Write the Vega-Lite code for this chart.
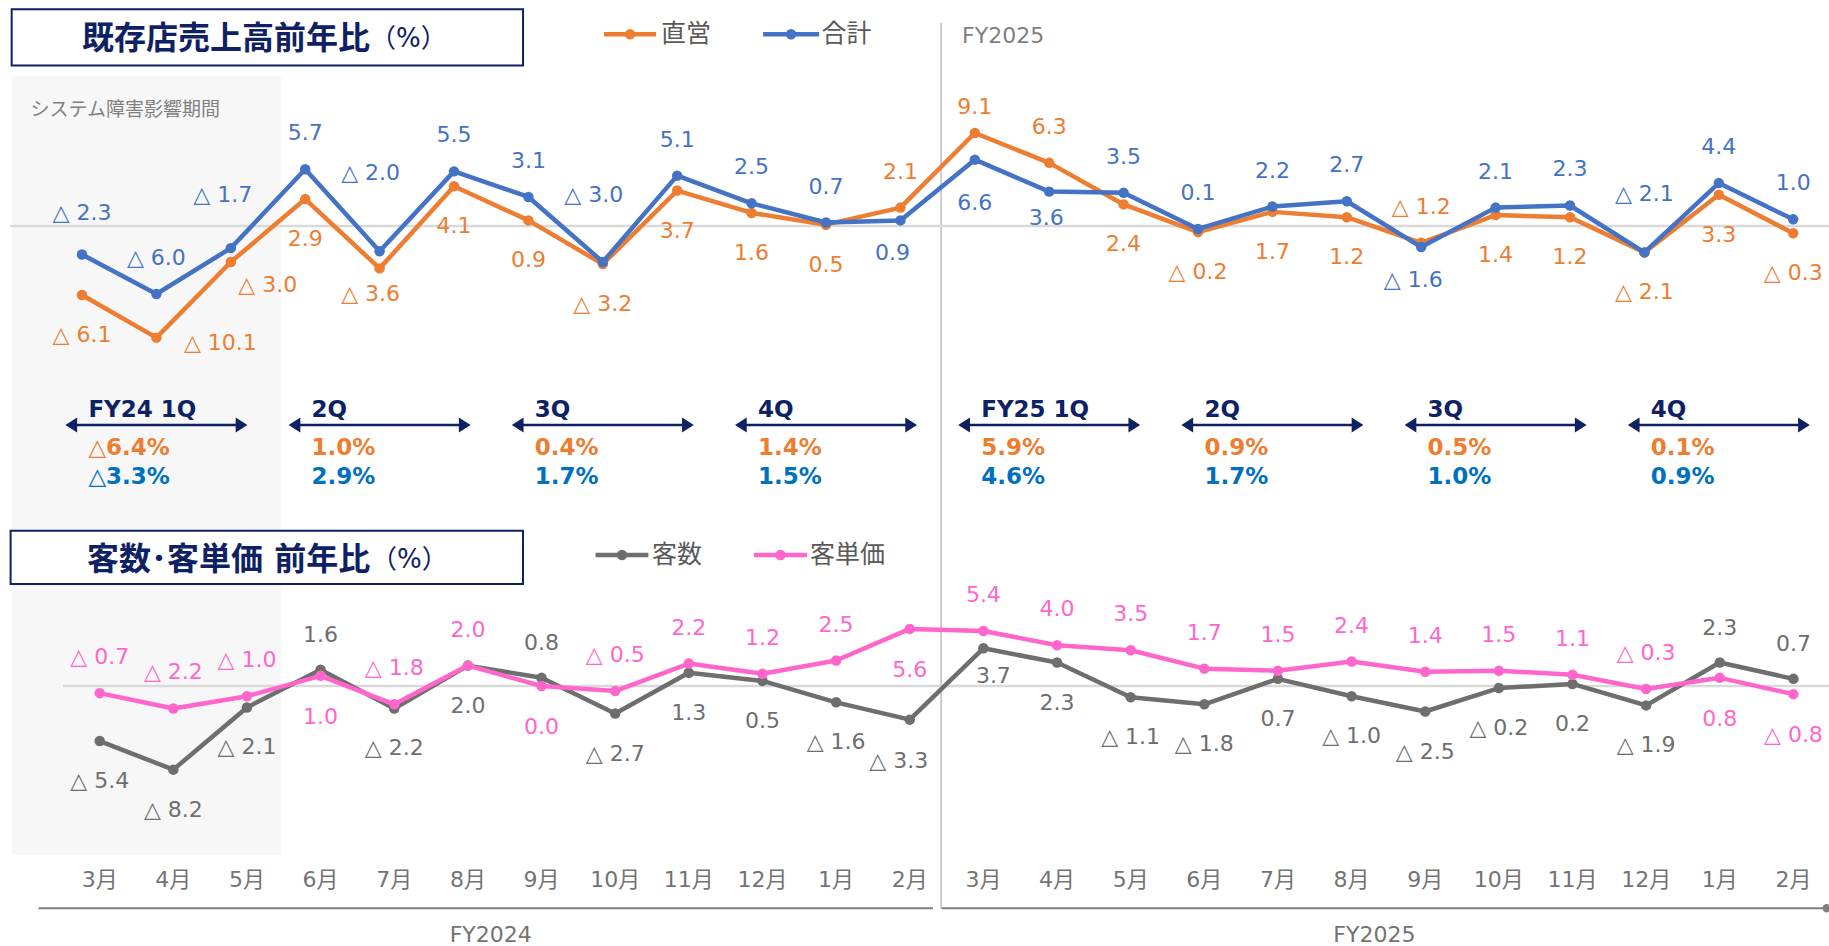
{
  "$schema": "https://vega.github.io/schema/vega-lite/v6.json",
  "width": 1829,
  "height": 946,
  "autosize": {"type": "none"},
  "padding": 0,
  "background": "white",
  "config": {
    "view": {"stroke": null},
    "text": {"font": "DejaVu Sans, Noto Sans CJK JP, sans-serif", "baseline": "middle"}
  },
  "datasets": {
    "top": [
      {"n": 1, "s": "直営", "v": -6.1, "t": "△ 6.1"},
      {"n": 2, "s": "直営", "v": -10.1, "t": "△ 10.1"},
      {"n": 3, "s": "直営", "v": -3.0, "t": "△ 3.0"},
      {"n": 4, "s": "直営", "v": 2.9, "t": "2.9"},
      {"n": 5, "s": "直営", "v": -3.6, "t": "△ 3.6"},
      {"n": 6, "s": "直営", "v": 4.1, "t": "4.1"},
      {"n": 7, "s": "直営", "v": 0.9, "t": "0.9"},
      {"n": 8, "s": "直営", "v": -3.2, "t": "△ 3.2"},
      {"n": 9, "s": "直営", "v": 3.7, "t": "3.7"},
      {"n": 10, "s": "直営", "v": 1.6, "t": "1.6"},
      {"n": 11, "s": "直営", "v": 0.5, "t": "0.5"},
      {"n": 12, "s": "直営", "v": 2.1, "t": "2.1"},
      {"n": 13, "s": "直営", "v": 9.1, "t": "9.1"},
      {"n": 14, "s": "直営", "v": 6.3, "t": "6.3"},
      {"n": 15, "s": "直営", "v": 2.4, "t": "2.4"},
      {"n": 16, "s": "直営", "v": -0.2, "t": "△ 0.2"},
      {"n": 17, "s": "直営", "v": 1.7, "t": "1.7"},
      {"n": 18, "s": "直営", "v": 1.2, "t": "1.2"},
      {"n": 19, "s": "直営", "v": -1.2, "t": "△ 1.2"},
      {"n": 20, "s": "直営", "v": 1.4, "t": "1.4"},
      {"n": 21, "s": "直営", "v": 1.2, "t": "1.2"},
      {"n": 22, "s": "直営", "v": -2.1, "t": "△ 2.1"},
      {"n": 23, "s": "直営", "v": 3.3, "t": "3.3"},
      {"n": 24, "s": "直営", "v": -0.3, "t": "△ 0.3"},
      {"n": 1, "s": "合計", "v": -2.3, "t": "△ 2.3"},
      {"n": 2, "s": "合計", "v": -6.0, "t": "△ 6.0"},
      {"n": 3, "s": "合計", "v": -1.7, "t": "△ 1.7"},
      {"n": 4, "s": "合計", "v": 5.7, "t": "5.7"},
      {"n": 5, "s": "合計", "v": -2.0, "t": "△ 2.0"},
      {"n": 6, "s": "合計", "v": 5.5, "t": "5.5"},
      {"n": 7, "s": "合計", "v": 3.1, "t": "3.1"},
      {"n": 8, "s": "合計", "v": -3.0, "t": "△ 3.0"},
      {"n": 9, "s": "合計", "v": 5.1, "t": "5.1"},
      {"n": 10, "s": "合計", "v": 2.5, "t": "2.5"},
      {"n": 11, "s": "合計", "v": 0.7, "t": "0.7"},
      {"n": 12, "s": "合計", "v": 0.9, "t": "0.9"},
      {"n": 13, "s": "合計", "v": 6.6, "t": "6.6"},
      {"n": 14, "s": "合計", "v": 3.6, "t": "3.6"},
      {"n": 15, "s": "合計", "v": 3.5, "t": "3.5"},
      {"n": 16, "s": "合計", "v": 0.1, "t": "0.1"},
      {"n": 17, "s": "合計", "v": 2.2, "t": "2.2"},
      {"n": 18, "s": "合計", "v": 2.7, "t": "2.7"},
      {"n": 19, "s": "合計", "v": -1.6, "t": "△ 1.6"},
      {"n": 20, "s": "合計", "v": 2.1, "t": "2.1"},
      {"n": 21, "s": "合計", "v": 2.3, "t": "2.3"},
      {"n": 22, "s": "合計", "v": -2.1, "t": "△ 2.1"},
      {"n": 23, "s": "合計", "v": 4.4, "t": "4.4"},
      {"n": 24, "s": "合計", "v": 1.0, "t": "1.0"}
    ],
    "quarters": [
      {"n": 2, "h": "FY24 1Q", "a": "△6.4%", "b": "△3.3%"},
      {"n": 5, "h": "2Q", "a": "1.0%", "b": "2.9%"},
      {"n": 8, "h": "3Q", "a": "0.4%", "b": "1.7%"},
      {"n": 11, "h": "4Q", "a": "1.4%", "b": "1.5%"},
      {"n": 14, "h": "FY25 1Q", "a": "5.9%", "b": "4.6%"},
      {"n": 17, "h": "2Q", "a": "0.9%", "b": "1.7%"},
      {"n": 20, "h": "3Q", "a": "0.5%", "b": "1.0%"},
      {"n": 23, "h": "4Q", "a": "0.1%", "b": "0.9%"}
    ],
    "bottom": [
      {"n": 1, "fy": "FY2024", "m": "3月", "s": "客数", "v": -5.4, "t": "△ 5.4"},
      {"n": 2, "fy": "FY2024", "m": "4月", "s": "客数", "v": -8.2, "t": "△ 8.2"},
      {"n": 3, "fy": "FY2024", "m": "5月", "s": "客数", "v": -2.1, "t": "△ 2.1"},
      {"n": 4, "fy": "FY2024", "m": "6月", "s": "客数", "v": 1.6, "t": "1.6"},
      {"n": 5, "fy": "FY2024", "m": "7月", "s": "客数", "v": -2.2, "t": "△ 2.2"},
      {"n": 6, "fy": "FY2024", "m": "8月", "s": "客数", "v": 2.0, "t": "2.0"},
      {"n": 7, "fy": "FY2024", "m": "9月", "s": "客数", "v": 0.8, "t": "0.8"},
      {"n": 8, "fy": "FY2024", "m": "10月", "s": "客数", "v": -2.7, "t": "△ 2.7"},
      {"n": 9, "fy": "FY2024", "m": "11月", "s": "客数", "v": 1.3, "t": "1.3"},
      {"n": 10, "fy": "FY2024", "m": "12月", "s": "客数", "v": 0.5, "t": "0.5"},
      {"n": 11, "fy": "FY2024", "m": "1月", "s": "客数", "v": -1.6, "t": "△ 1.6"},
      {"n": 12, "fy": "FY2024", "m": "2月", "s": "客数", "v": -3.3, "t": "△ 3.3"},
      {"n": 13, "fy": "FY2025", "m": "3月", "s": "客数", "v": 3.7, "t": "3.7"},
      {"n": 14, "fy": "FY2025", "m": "4月", "s": "客数", "v": 2.3, "t": "2.3"},
      {"n": 15, "fy": "FY2025", "m": "5月", "s": "客数", "v": -1.1, "t": "△ 1.1"},
      {"n": 16, "fy": "FY2025", "m": "6月", "s": "客数", "v": -1.8, "t": "△ 1.8"},
      {"n": 17, "fy": "FY2025", "m": "7月", "s": "客数", "v": 0.7, "t": "0.7"},
      {"n": 18, "fy": "FY2025", "m": "8月", "s": "客数", "v": -1.0, "t": "△ 1.0"},
      {"n": 19, "fy": "FY2025", "m": "9月", "s": "客数", "v": -2.5, "t": "△ 2.5"},
      {"n": 20, "fy": "FY2025", "m": "10月", "s": "客数", "v": -0.2, "t": "△ 0.2"},
      {"n": 21, "fy": "FY2025", "m": "11月", "s": "客数", "v": 0.2, "t": "0.2"},
      {"n": 22, "fy": "FY2025", "m": "12月", "s": "客数", "v": -1.9, "t": "△ 1.9"},
      {"n": 23, "fy": "FY2025", "m": "1月", "s": "客数", "v": 2.3, "t": "2.3"},
      {"n": 24, "fy": "FY2025", "m": "2月", "s": "客数", "v": 0.7, "t": "0.7"},
      {"n": 1, "fy": "FY2024", "m": "3月", "s": "客単価", "v": -0.7, "t": "△ 0.7"},
      {"n": 2, "fy": "FY2024", "m": "4月", "s": "客単価", "v": -2.2, "t": "△ 2.2"},
      {"n": 3, "fy": "FY2024", "m": "5月", "s": "客単価", "v": -1.0, "t": "△ 1.0"},
      {"n": 4, "fy": "FY2024", "m": "6月", "s": "客単価", "v": 1.0, "t": "1.0"},
      {"n": 5, "fy": "FY2024", "m": "7月", "s": "客単価", "v": -1.8, "t": "△ 1.8"},
      {"n": 6, "fy": "FY2024", "m": "8月", "s": "客単価", "v": 2.0, "t": "2.0"},
      {"n": 7, "fy": "FY2024", "m": "9月", "s": "客単価", "v": 0.0, "t": "0.0"},
      {"n": 8, "fy": "FY2024", "m": "10月", "s": "客単価", "v": -0.5, "t": "△ 0.5"},
      {"n": 9, "fy": "FY2024", "m": "11月", "s": "客単価", "v": 2.2, "t": "2.2"},
      {"n": 10, "fy": "FY2024", "m": "12月", "s": "客単価", "v": 1.2, "t": "1.2"},
      {"n": 11, "fy": "FY2024", "m": "1月", "s": "客単価", "v": 2.5, "t": "2.5"},
      {"n": 12, "fy": "FY2024", "m": "2月", "s": "客単価", "v": 5.6, "t": "5.6"},
      {"n": 13, "fy": "FY2025", "m": "3月", "s": "客単価", "v": 5.4, "t": "5.4"},
      {"n": 14, "fy": "FY2025", "m": "4月", "s": "客単価", "v": 4.0, "t": "4.0"},
      {"n": 15, "fy": "FY2025", "m": "5月", "s": "客単価", "v": 3.5, "t": "3.5"},
      {"n": 16, "fy": "FY2025", "m": "6月", "s": "客単価", "v": 1.7, "t": "1.7"},
      {"n": 17, "fy": "FY2025", "m": "7月", "s": "客単価", "v": 1.5, "t": "1.5"},
      {"n": 18, "fy": "FY2025", "m": "8月", "s": "客単価", "v": 2.4, "t": "2.4"},
      {"n": 19, "fy": "FY2025", "m": "9月", "s": "客単価", "v": 1.4, "t": "1.4"},
      {"n": 20, "fy": "FY2025", "m": "10月", "s": "客単価", "v": 1.5, "t": "1.5"},
      {"n": 21, "fy": "FY2025", "m": "11月", "s": "客単価", "v": 1.1, "t": "1.1"},
      {"n": 22, "fy": "FY2025", "m": "12月", "s": "客単価", "v": -0.3, "t": "△ 0.3"},
      {"n": 23, "fy": "FY2025", "m": "1月", "s": "客単価", "v": 0.8, "t": "0.8"},
      {"n": 24, "fy": "FY2025", "m": "2月", "s": "客単価", "v": -0.8, "t": "△ 0.8"}
    ]
  },
  "resolve": {"scale": {"x": "independent", "y": "independent"}},
  "layer": [
    {
      "layer": [
        {"data": {"values": [{}]}, "mark": {"type": "rect", "color": "#F7F7F7"},
         "encoding": {"x": {"datum": 0.059, "type": "quantitative", "scale": {"domain": [-0.1022, 24.481], "nice": false, "zero": false}, "axis": null}, "x2": {"datum": 3.6751},
                      "y": {"datum": 14.446, "type": "quantitative", "scale": {"domain": [-67.167, 21.576], "nice": false, "zero": false}, "axis": null}, "y2": {"datum": -58.63}}},
        {"data": {"values": [{}]}, "mark": {"type": "rule", "color": "#BFBFBF", "strokeWidth": 1.5},
         "encoding": {"x": {"datum": 12.5472, "type": "quantitative", "scale": {"domain": [-0.1022, 24.481], "nice": false, "zero": false}, "axis": null},
                      "y": {"datum": 19.418, "type": "quantitative", "scale": {"domain": [-67.167, 21.576], "nice": false, "zero": false}, "axis": null}, "y2": {"datum": -63.7}}},
        {"data": {"values": [{}]}, "mark": {"type": "rule", "color": "#D9D9D9", "strokeWidth": 2.5},
         "encoding": {"x": {"datum": 0.0321, "type": "quantitative", "scale": {"domain": [-0.1022, 24.481], "nice": false, "zero": false}, "axis": null}, "x2": {"datum": 24.481},
                      "y": {"datum": 0.375, "type": "quantitative", "scale": {"domain": [-67.167, 21.576], "nice": false, "zero": false}, "axis": null}}},
        {"data": {"values": [{}]}, "mark": {"type": "rect", "fill": "#FFFFFF", "stroke": "#0E2163", "strokeWidth": 2},
         "encoding": {"x": {"datum": 0.055, "type": "quantitative", "scale": {"domain": [-0.1022, 24.481], "nice": false, "zero": false}, "axis": null}, "x2": {"datum": 6.928},
                      "y": {"datum": 20.704, "type": "quantitative", "scale": {"domain": [-67.167, 21.576], "nice": false, "zero": false}, "axis": null}, "y2": {"datum": 15.432}}},
        {"data": {"values": [{}]}, "mark": {"type": "text", "align": "left", "fontSize": 32, "fontWeight": "bold", "color": "#0E2163"},
         "encoding": {"x": {"datum": 1.0, "type": "quantitative", "scale": {"domain": [-0.1022, 24.481], "nice": false, "zero": false}, "axis": null},
                      "y": {"datum": 17.871, "type": "quantitative", "scale": {"domain": [-67.167, 21.576], "nice": false, "zero": false}, "axis": null}, "text": {"value": "既存店売上高前年比"}}},
        {"data": {"values": [{}]}, "mark": {"type": "text", "align": "left", "fontSize": 26, "color": "#0E2163"},
         "encoding": {"x": {"datum": 4.871, "type": "quantitative", "scale": {"domain": [-0.1022, 24.481], "nice": false, "zero": false}, "axis": null},
                      "y": {"datum": 17.871, "type": "quantitative", "scale": {"domain": [-67.167, 21.576], "nice": false, "zero": false}, "axis": null}, "text": {"value": "（%）"}}},
        {"data": {"values": [{}]}, "mark": {"type": "rule", "color": "#ED7D31", "strokeWidth": 4.5},
         "encoding": {"x": {"datum": 8.017, "type": "quantitative", "scale": {"domain": [-0.1022, 24.481], "nice": false, "zero": false}, "axis": null}, "x2": {"datum": 8.716},
                      "y": {"datum": 18.358, "type": "quantitative", "scale": {"domain": [-67.167, 21.576], "nice": false, "zero": false}, "axis": null}}},
        {"data": {"values": [{}]}, "mark": {"type": "point", "filled": true, "size": 110, "opacity": 1, "color": "#ED7D31"},
         "encoding": {"x": {"datum": 8.3665, "type": "quantitative", "scale": {"domain": [-0.1022, 24.481], "nice": false, "zero": false}, "axis": null},
                      "y": {"datum": 18.358, "type": "quantitative", "scale": {"domain": [-67.167, 21.576], "nice": false, "zero": false}, "axis": null}}},
        {"data": {"values": [{}]}, "mark": {"type": "text", "align": "left", "fontSize": 25, "color": "#595959"},
         "encoding": {"x": {"datum": 8.7833, "type": "quantitative", "scale": {"domain": [-0.1022, 24.481], "nice": false, "zero": false}, "axis": null},
                      "y": {"datum": 18.358, "type": "quantitative", "scale": {"domain": [-67.167, 21.576], "nice": false, "zero": false}, "axis": null}, "text": {"value": "直営"}}},
        {"data": {"values": [{}]}, "mark": {"type": "rule", "color": "#4472C4", "strokeWidth": 4.5},
         "encoding": {"x": {"datum": 10.1543, "type": "quantitative", "scale": {"domain": [-0.1022, 24.481], "nice": false, "zero": false}, "axis": null}, "x2": {"datum": 10.9071},
                      "y": {"datum": 18.358, "type": "quantitative", "scale": {"domain": [-67.167, 21.576], "nice": false, "zero": false}, "axis": null}}},
        {"data": {"values": [{}]}, "mark": {"type": "point", "filled": true, "size": 110, "opacity": 1, "color": "#4472C4"},
         "encoding": {"x": {"datum": 10.5307, "type": "quantitative", "scale": {"domain": [-0.1022, 24.481], "nice": false, "zero": false}, "axis": null},
                      "y": {"datum": 18.358, "type": "quantitative", "scale": {"domain": [-67.167, 21.576], "nice": false, "zero": false}, "axis": null}}},
        {"data": {"values": [{}]}, "mark": {"type": "text", "align": "left", "fontSize": 25, "color": "#595959"},
         "encoding": {"x": {"datum": 10.9408, "type": "quantitative", "scale": {"domain": [-0.1022, 24.481], "nice": false, "zero": false}, "axis": null},
                      "y": {"datum": 18.358, "type": "quantitative", "scale": {"domain": [-67.167, 21.576], "nice": false, "zero": false}, "axis": null}, "text": {"value": "合計"}}},
        {"data": {"values": [{}]}, "mark": {"type": "text", "align": "left", "fontSize": 22, "color": "#7F7F7F"},
         "encoding": {"x": {"datum": 12.8295, "type": "quantitative", "scale": {"domain": [-0.1022, 24.481], "nice": false, "zero": false}, "axis": null},
                      "y": {"datum": 18.199, "type": "quantitative", "scale": {"domain": [-67.167, 21.576], "nice": false, "zero": false}, "axis": null}, "text": {"value": "FY2025"}}},
        {"data": {"values": [{}]}, "mark": {"type": "text", "align": "left", "fontSize": 19, "color": "#7F7F7F"},
         "encoding": {"x": {"datum": 0.3077, "type": "quantitative", "scale": {"domain": [-0.1022, 24.481], "nice": false, "zero": false}, "axis": null},
                      "y": {"datum": 11.257, "type": "quantitative", "scale": {"domain": [-67.167, 21.576], "nice": false, "zero": false}, "axis": null}, "text": {"value": "システム障害影響期間"}}},
        {"data": {"name": "top"},
         "encoding": {
           "x": {"field": "n", "type": "quantitative", "scale": {"domain": [-0.1022, 24.481], "nice": false, "zero": false}, "axis": null},
           "y": {"field": "v", "type": "quantitative", "scale": {"domain": [-67.167, 21.576], "nice": false, "zero": false}, "axis": null}
         },
         "layer": [
          {"transform": [{"filter": {"field": "s", "equal": "直営"}}],
           "mark": {"type": "line", "color": "#ED7D31", "strokeWidth": 4.5, "strokeJoin": "round", "point": {"filled": true, "size": 110, "opacity": 1, "color": "#ED7D31"}},
           "encoding": {"y": {"field": "v", "type": "quantitative", "scale": {"domain": [-67.167, 21.576], "nice": false, "zero": false},
                              "axis": {"orient": "left", "offset": -22, "values": [-15, -10, -5, 0, 5, 10, 15], "format": ".1f", "labelColor": "#FFFFFF", "labelFontSize": 20, "labelPadding": 0, "domain": false, "ticks": false, "grid": false, "title": null}}}},
          {"transform": [{"filter": {"field": "s", "equal": "合計"}}],
           "mark": {"type": "line", "color": "#4472C4", "strokeWidth": 4.5, "strokeJoin": "round", "point": {"filled": true, "size": 110, "opacity": 1, "color": "#4472C4"}}},
          {"transform": [{"filter": {"and": [{"field": "s", "equal": "直営"}, {"not": {"field": "n", "oneOf": [2, 3, 5, 12, 13, 14, 19]}}]}}],
           "mark": {"type": "text", "fontSize": 22, "color": "#ED7D31", "dy": 40}, "encoding": {"text": {"field": "t"}}},
          {"transform": [{"filter": {"and": [{"field": "s", "equal": "直営"}, {"field": "n", "oneOf": [12, 14, 19]}]}}],
           "mark": {"type": "text", "fontSize": 22, "color": "#ED7D31", "dy": -36}, "encoding": {"text": {"field": "t"}}},
          {"transform": [{"filter": {"and": [{"field": "s", "equal": "直営"}, {"field": "n", "equal": 13}]}}],
           "mark": {"type": "text", "fontSize": 22, "color": "#ED7D31", "dy": -26}, "encoding": {"text": {"field": "t"}}},
          {"transform": [{"filter": {"and": [{"field": "s", "equal": "直営"}, {"field": "n", "equal": 2}]}}],
           "mark": {"type": "text", "fontSize": 22, "color": "#ED7D31", "dx": 64, "dy": 5}, "encoding": {"text": {"field": "t"}}},
          {"transform": [{"filter": {"and": [{"field": "s", "equal": "直営"}, {"field": "n", "equal": 3}]}}],
           "mark": {"type": "text", "fontSize": 22, "color": "#ED7D31", "dx": 37, "dy": 23}, "encoding": {"text": {"field": "t"}}},
          {"transform": [{"filter": {"and": [{"field": "s", "equal": "直営"}, {"field": "n", "equal": 5}]}}],
           "mark": {"type": "text", "fontSize": 22, "color": "#ED7D31", "dx": -9, "dy": 26}, "encoding": {"text": {"field": "t"}}},
          {"transform": [{"filter": {"and": [{"field": "s", "equal": "合計"}, {"not": {"field": "n", "oneOf": [1, 3, 5, 8, 12, 13, 14, 19, 22]}}]}}],
           "mark": {"type": "text", "fontSize": 22, "color": "#4472C4", "dy": -36}, "encoding": {"text": {"field": "t"}}},
          {"transform": [{"filter": {"and": [{"field": "s", "equal": "合計"}, {"field": "n", "equal": 1}]}}],
           "mark": {"type": "text", "fontSize": 22, "color": "#4472C4", "dy": -42}, "encoding": {"text": {"field": "t"}}},
          {"transform": [{"filter": {"and": [{"field": "s", "equal": "合計"}, {"field": "n", "equal": 3}]}}],
           "mark": {"type": "text", "fontSize": 22, "color": "#4472C4", "dx": -8, "dy": -53}, "encoding": {"text": {"field": "t"}}},
          {"transform": [{"filter": {"and": [{"field": "s", "equal": "合計"}, {"field": "n", "equal": 5}]}}],
           "mark": {"type": "text", "fontSize": 22, "color": "#4472C4", "dx": -9, "dy": -78}, "encoding": {"text": {"field": "t"}}},
          {"transform": [{"filter": {"and": [{"field": "s", "equal": "合計"}, {"field": "n", "equal": 8}]}}],
           "mark": {"type": "text", "fontSize": 22, "color": "#4472C4", "dx": -9, "dy": -67}, "encoding": {"text": {"field": "t"}}},
          {"transform": [{"filter": {"and": [{"field": "s", "equal": "合計"}, {"field": "n", "equal": 22}]}}],
           "mark": {"type": "text", "fontSize": 22, "color": "#4472C4", "dy": -58}, "encoding": {"text": {"field": "t"}}},
          {"transform": [{"filter": {"and": [{"field": "s", "equal": "合計"}, {"field": "n", "oneOf": [12, 19]}]}}],
           "mark": {"type": "text", "fontSize": 22, "color": "#4472C4", "dx": -8, "dy": 33}, "encoding": {"text": {"field": "t"}}},
          {"transform": [{"filter": {"and": [{"field": "s", "equal": "合計"}, {"field": "n", "equal": 13}]}}],
           "mark": {"type": "text", "fontSize": 22, "color": "#4472C4", "dy": 43}, "encoding": {"text": {"field": "t"}}},
          {"transform": [{"filter": {"and": [{"field": "s", "equal": "合計"}, {"field": "n", "equal": 14}]}}],
           "mark": {"type": "text", "fontSize": 22, "color": "#4472C4", "dx": -3, "dy": 26}, "encoding": {"text": {"field": "t"}}}
         ]},
        {"data": {"name": "quarters"},
         "encoding": {"x": {"field": "n", "type": "quantitative", "scale": {"domain": [-0.1022, 24.481], "nice": false, "zero": false}, "axis": null}},
         "layer": [
           {"mark": {"type": "point", "shape": "M -1 0 L -0.871 -0.082 L -0.871 -0.014 L 0.871 -0.014 L 0.871 -0.082 L 1 0 L 0.871 0.082 L 0.871 0.014 L -0.871 0.014 L -0.871 0.082 Z", "size": 33124, "filled": true, "opacity": 1, "color": "#0E2163", "strokeWidth": 0},
            "encoding": {"y": {"datum": -18.293, "type": "quantitative", "scale": {"domain": [-67.167, 21.576], "nice": false, "zero": false}, "axis": null}}},
           {"mark": {"type": "text", "align": "left", "dx": -68, "fontSize": 23, "fontWeight": "bold", "color": "#0E2163"},
            "encoding": {"y": {"datum": -16.886, "type": "quantitative", "scale": {"domain": [-67.167, 21.576], "nice": false, "zero": false}, "axis": null}, "text": {"field": "h"}}},
           {"mark": {"type": "text", "align": "left", "dx": -68, "fontSize": 23, "fontWeight": "bold", "color": "#ED7D31"},
            "encoding": {"y": {"datum": -20.45, "type": "quantitative", "scale": {"domain": [-67.167, 21.576], "nice": false, "zero": false}, "axis": null}, "text": {"field": "a"}}},
           {"mark": {"type": "text", "align": "left", "dx": -68, "fontSize": 23, "fontWeight": "bold", "color": "#0070C0"},
            "encoding": {"y": {"datum": -23.143, "type": "quantitative", "scale": {"domain": [-67.167, 21.576], "nice": false, "zero": false}, "axis": null}, "text": {"field": "b"}}}
         ]}
      ]
    },
    {
      "layer": [
        {"data": {"values": [{}]}, "mark": {"type": "rect", "fill": "#FFFFFF", "stroke": "#0E2163", "strokeWidth": 2},
         "encoding": {"x": {"datum": -0.2099, "type": "quantitative", "scale": {"domain": [-0.3539, 24.4831], "nice": false, "zero": false}, "axis": null}, "x2": {"datum": 6.7483},
                      "y": {"datum": 15.225, "type": "quantitative", "scale": {"domain": [-25.49, 67.255], "nice": false, "zero": false}, "axis": null}, "y2": {"datum": 10.0}}},
        {"data": {"values": [{}]}, "mark": {"type": "text", "align": "left", "fontSize": 32, "fontWeight": "bold", "color": "#0E2163"},
         "encoding": {"x": {"datum": 0.8275, "type": "quantitative", "scale": {"domain": [-0.3539, 24.4831], "nice": false, "zero": false}, "axis": null},
                      "y": {"datum": 12.353, "type": "quantitative", "scale": {"domain": [-25.49, 67.255], "nice": false, "zero": false}, "axis": null}, "text": {"value": "客数･客単価 前年比"}}},
        {"data": {"values": [{}]}, "mark": {"type": "text", "align": "left", "fontSize": 26, "color": "#0E2163"},
         "encoding": {"x": {"datum": 4.684, "type": "quantitative", "scale": {"domain": [-0.3539, 24.4831], "nice": false, "zero": false}, "axis": null},
                      "y": {"datum": 12.353, "type": "quantitative", "scale": {"domain": [-25.49, 67.255], "nice": false, "zero": false}, "axis": null}, "text": {"value": "（%）"}}},
        {"data": {"values": [{}]}, "mark": {"type": "rule", "color": "#6E6E6E", "strokeWidth": 4.5},
         "encoding": {"x": {"datum": 7.734, "type": "quantitative", "scale": {"domain": [-0.3539, 24.4831], "nice": false, "zero": false}, "axis": null}, "x2": {"datum": 8.451},
                      "y": {"datum": 12.843, "type": "quantitative", "scale": {"domain": [-25.49, 67.255], "nice": false, "zero": false}, "axis": null}}},
        {"data": {"values": [{}]}, "mark": {"type": "point", "filled": true, "size": 110, "opacity": 1, "color": "#6E6E6E"},
         "encoding": {"x": {"datum": 8.0925, "type": "quantitative", "scale": {"domain": [-0.3539, 24.4831], "nice": false, "zero": false}, "axis": null},
                      "y": {"datum": 12.843, "type": "quantitative", "scale": {"domain": [-25.49, 67.255], "nice": false, "zero": false}, "axis": null}}},
        {"data": {"values": [{}]}, "mark": {"type": "text", "align": "left", "fontSize": 25, "color": "#595959"},
         "encoding": {"x": {"datum": 8.5, "type": "quantitative", "scale": {"domain": [-0.3539, 24.4831], "nice": false, "zero": false}, "axis": null},
                      "y": {"datum": 12.843, "type": "quantitative", "scale": {"domain": [-25.49, 67.255], "nice": false, "zero": false}, "axis": null}, "text": {"value": "客数"}}},
        {"data": {"values": [{}]}, "mark": {"type": "rule", "color": "#FF66CC", "strokeWidth": 4.5},
         "encoding": {"x": {"datum": 9.8851, "type": "quantitative", "scale": {"domain": [-0.3539, 24.4831], "nice": false, "zero": false}, "axis": null}, "x2": {"datum": 10.6048},
                      "y": {"datum": 12.843, "type": "quantitative", "scale": {"domain": [-25.49, 67.255], "nice": false, "zero": false}, "axis": null}}},
        {"data": {"values": [{}]}, "mark": {"type": "point", "filled": true, "size": 110, "opacity": 1, "color": "#FF66CC"},
         "encoding": {"x": {"datum": 10.245, "type": "quantitative", "scale": {"domain": [-0.3539, 24.4831], "nice": false, "zero": false}, "axis": null},
                      "y": {"datum": 12.843, "type": "quantitative", "scale": {"domain": [-25.49, 67.255], "nice": false, "zero": false}, "axis": null}}},
        {"data": {"values": [{}]}, "mark": {"type": "text", "align": "left", "fontSize": 25, "color": "#595959"},
         "encoding": {"x": {"datum": 10.6455, "type": "quantitative", "scale": {"domain": [-0.3539, 24.4831], "nice": false, "zero": false}, "axis": null},
                      "y": {"datum": 12.843, "type": "quantitative", "scale": {"domain": [-25.49, 67.255], "nice": false, "zero": false}, "axis": null}, "text": {"value": "客単価"}}},
        {"data": {"values": [{}]}, "mark": {"type": "rule", "color": "#D9D9D9", "strokeWidth": 2.5},
         "encoding": {"x": {"datum": 0.5016, "type": "quantitative", "scale": {"domain": [-0.3539, 24.4831], "nice": false, "zero": false}, "axis": null}, "x2": {"datum": 24.4831},
                      "y": {"datum": 0, "type": "quantitative", "scale": {"domain": [-25.49, 67.255], "nice": false, "zero": false}, "axis": null}}},
        {"data": {"values": [{}]}, "mark": {"type": "rule", "color": "#808080", "strokeWidth": 2},
         "encoding": {"x": {"datum": 0.1689, "type": "quantitative", "scale": {"domain": [-0.3539, 24.4831], "nice": false, "zero": false}, "axis": null}, "x2": {"datum": 12.3156},
                      "y": {"datum": -21.794, "type": "quantitative", "scale": {"domain": [-25.49, 67.255], "nice": false, "zero": false}, "axis": null}}},
        {"data": {"values": [{}]}, "mark": {"type": "rule", "color": "#808080", "strokeWidth": 2},
         "encoding": {"x": {"datum": 12.434, "type": "quantitative", "scale": {"domain": [-0.3539, 24.4831], "nice": false, "zero": false}, "axis": null}, "x2": {"datum": 24.452},
                      "y": {"datum": -21.794, "type": "quantitative", "scale": {"domain": [-25.49, 67.255], "nice": false, "zero": false}, "axis": null}}},
        {"data": {"values": [{}]}, "mark": {"type": "point", "filled": true, "size": 70, "opacity": 1, "color": "#808080"},
         "encoding": {"x": {"datum": 24.452, "type": "quantitative", "scale": {"domain": [-0.3539, 24.4831], "nice": false, "zero": false}, "axis": null},
                      "y": {"datum": -21.794, "type": "quantitative", "scale": {"domain": [-25.49, 67.255], "nice": false, "zero": false}, "axis": null}}},
        {"data": {"name": "bottom"},
         "transform": [{"filter": {"field": "s", "equal": "客数"}}],
         "mark": {"type": "text", "fontSize": 22, "color": "#737373"},
         "encoding": {"x": {"field": "n", "type": "quantitative", "scale": {"domain": [-0.3539, 24.4831], "nice": false, "zero": false}, "axis": null},
                      "y": {"datum": -19.02, "type": "quantitative", "scale": {"domain": [-25.49, 67.255], "nice": false, "zero": false}, "axis": null}, "text": {"field": "m"}}},
        {"data": {"name": "bottom"},
         "transform": [{"filter": {"field": "s", "equal": "客数"}}, {"aggregate": [{"op": "mean", "field": "n", "as": "n"}], "groupby": ["fy"]}],
         "mark": {"type": "text", "fontSize": 22, "color": "#737373", "dx": -14},
         "encoding": {"x": {"field": "n", "type": "quantitative", "scale": {"domain": [-0.3539, 24.4831], "nice": false, "zero": false}, "axis": null},
                      "y": {"datum": -24.41, "type": "quantitative", "scale": {"domain": [-25.49, 67.255], "nice": false, "zero": false}, "axis": null}, "text": {"field": "fy"}}},
        {"data": {"name": "bottom"},
         "encoding": {
           "x": {"field": "n", "type": "quantitative", "scale": {"domain": [-0.3539, 24.4831], "nice": false, "zero": false}, "axis": null},
           "y": {"field": "v", "type": "quantitative", "scale": {"domain": [-25.49, 67.255], "nice": false, "zero": false}, "axis": null}
         },
         "layer": [
          {"transform": [{"filter": {"field": "s", "equal": "客数"}}],
           "mark": {"type": "line", "color": "#6E6E6E", "strokeWidth": 4.5, "strokeJoin": "round", "point": {"filled": true, "size": 110, "opacity": 1, "color": "#6E6E6E"}},
           "encoding": {"y": {"field": "v", "type": "quantitative", "scale": {"domain": [-25.49, 67.255], "nice": false, "zero": false},
                              "axis": {"orient": "left", "offset": -41, "values": [-15, -10, -5, 0, 5, 10, 15], "format": ".1f", "labelColor": "#FFFFFF", "labelFontSize": 20, "labelPadding": 0, "domain": false, "ticks": false, "grid": false, "title": null}}}},
          {"transform": [{"filter": {"field": "s", "equal": "客単価"}}],
           "mark": {"type": "line", "color": "#FF66CC", "strokeWidth": 4.5, "strokeJoin": "round", "point": {"filled": true, "size": 110, "opacity": 1, "color": "#FF66CC"}}},
          {"transform": [{"filter": {"and": [{"field": "s", "equal": "客単価"}, {"not": {"field": "n", "oneOf": [4, 7, 12, 23, 24]}}]}}],
           "mark": {"type": "text", "fontSize": 22, "color": "#FF66CC", "dy": -36}, "encoding": {"text": {"field": "t"}}},
          {"transform": [{"filter": {"and": [{"field": "s", "equal": "客単価"}, {"field": "n", "oneOf": [4, 7, 12, 23, 24]}]}}],
           "mark": {"type": "text", "fontSize": 22, "color": "#FF66CC", "dy": 41}, "encoding": {"text": {"field": "t"}}},
          {"transform": [{"filter": {"and": [{"field": "s", "equal": "客数"}, {"not": {"field": "n", "oneOf": [4, 7, 12, 13, 23, 24]}}]}}],
           "mark": {"type": "text", "fontSize": 22, "color": "#6E6E6E", "dy": 40}, "encoding": {"text": {"field": "t"}}},
          {"transform": [{"filter": {"and": [{"field": "s", "equal": "客数"}, {"field": "n", "oneOf": [4, 7, 23, 24]}]}}],
           "mark": {"type": "text", "fontSize": 22, "color": "#6E6E6E", "dy": -35}, "encoding": {"text": {"field": "t"}}},
          {"transform": [{"filter": {"and": [{"field": "s", "equal": "客数"}, {"field": "n", "equal": 12}]}}],
           "mark": {"type": "text", "fontSize": 22, "color": "#6E6E6E", "dx": -11, "dy": 41}, "encoding": {"text": {"field": "t"}}},
          {"transform": [{"filter": {"and": [{"field": "s", "equal": "客数"}, {"field": "n", "equal": 13}]}}],
           "mark": {"type": "text", "fontSize": 22, "color": "#6E6E6E", "dx": 10, "dy": 28}, "encoding": {"text": {"field": "t"}}}
         ]}
      ]
    }
  ]
}
